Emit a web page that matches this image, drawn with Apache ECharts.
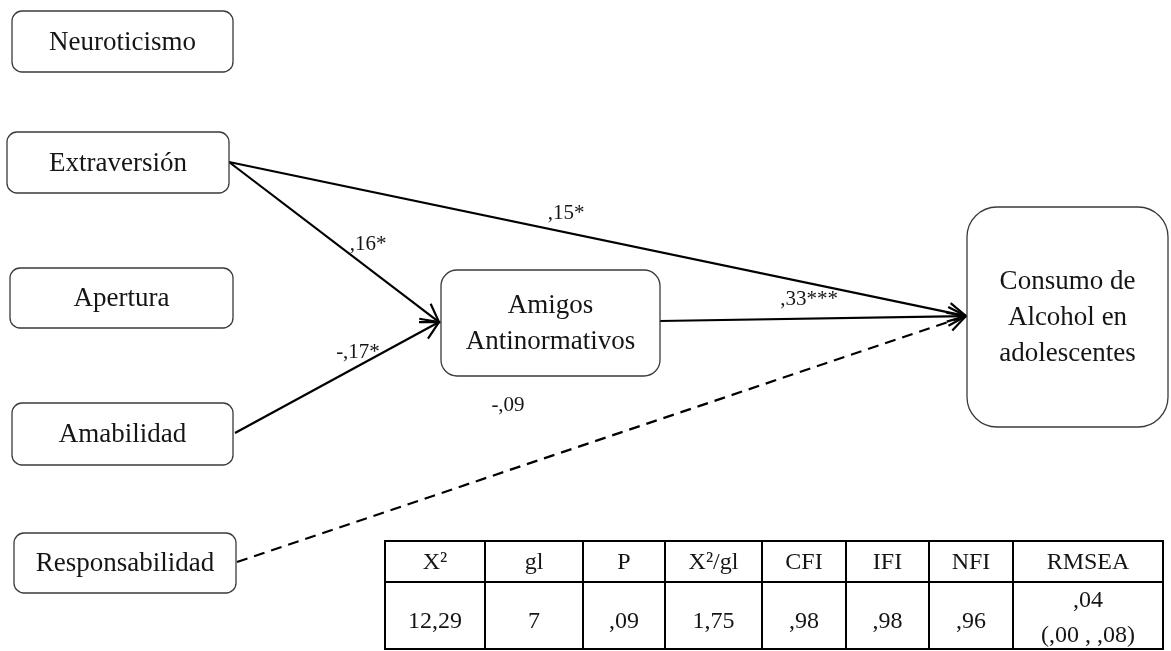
<!DOCTYPE html>
<html><head><meta charset="utf-8">
<script src="https://cdn.jsdelivr.net/npm/echarts@6/dist/echarts.min.js"></script>
<style>html,body{margin:0;padding:0;background:#fff}#c{width:1171px;height:651px}</style>
</head><body><div id="c"></div>
<script>
// ---- data ----
const variables = ['Neuroticismo', 'Extraversión', 'Apertura', 'Amabilidad', 'Responsabilidad', 'Amigos\nAntinormativos', 'Consumo de\nAlcohol en\nadolescentes'];
const pathFrom = ['Extraversión', 'Extraversión', 'Amabilidad', 'Amigos\nAntinormativos', 'Responsabilidad'];
const pathTo = ['Consumo de\nAlcohol en\nadolescentes', 'Amigos\nAntinormativos', 'Amigos\nAntinormativos', 'Consumo de\nAlcohol en\nadolescentes', 'Consumo de\nAlcohol en\nadolescentes'];
const pathCoef = [',15*', ',16*', '-,17*', ',33***', '-,09'];
const pathSignificant = [true, true, true, true, false];
const fitHeaders = ['X²', 'gl', 'P', 'X²/gl', 'CFI', 'IFI', 'NFI', 'RMSEA'];
const fitValues = ['12,29', '7', ',09', '1,75', ',98', ',98', ',96', ',04\n(,00 , ,08)'];

// ---- layout (positions / sizes, kept apart from data) ----
const boxLayout = [
  [12, 11, 233, 72, 10],
  [7, 132, 229, 193, 10],
  [10, 268, 233, 328, 10],
  [12, 403, 233, 465, 10],
  [14, 533, 236, 593, 10],
  [441, 270, 660, 376, 16],
  [967, 207, 1168, 427, 30]
];
// start point, end point, label position
const edgeLayout = [
  [[229, 162], [966, 316], [566, 213]],
  [[229, 162], [439, 322], [368, 244]],
  [[235, 433], [439, 322], [358, 352]],
  [[660, 321], [966, 316], [809, 299]],
  [[237, 562], [966, 316], [508, 405]]
];
const tableCols = [385, 485, 583, 665, 762, 846, 929, 1013, 1163];
const tableRows = [541, 582, 649];

const SERIF = '"Liberation Serif", "Times New Roman", serif';
const chart = echarts.init(document.getElementById('c'), null, {renderer: 'canvas'});

function renderBox(params, api) {
  const b = boxLayout[params.dataIndex];
  const p1 = api.coord([b[0], b[1]]), p2 = api.coord([b[2], b[3]]);
  return {
    type: 'group', children: [
      {type: 'rect', shape: {x: p1[0], y: p1[1], width: p2[0] - p1[0], height: p2[1] - p1[1], r: b[4]},
        style: {fill: '#fff', stroke: '#3a3a3a', lineWidth: 1.3}},
      {type: 'text', x: (p1[0] + p2[0]) / 2, y: (p1[1] + p2[1]) / 2 + 1,
        style: {text: variables[params.dataIndex], font: '27px ' + SERIF, fill: '#151515', align: 'center', verticalAlign: 'middle', lineHeight: 36}}
    ]
  };
}

function renderEdge(params, api) {
  const i = params.dataIndex;
  const L = edgeLayout[i];
  const s = api.coord(L[0]), e = api.coord(L[1]), lp = api.coord(L[2]);
  const dx = e[0] - s[0], dy = e[1] - s[1];
  const len = Math.sqrt(dx * dx + dy * dy);
  const ux = dx / len, uy = dy / len;
  const AL = 20, th = 28 * Math.PI / 180;
  function rot(a) {
    const c = Math.cos(a), sn = Math.sin(a);
    return [ux * c - uy * sn, ux * sn + uy * c];
  }
  const r1 = rot(th), r2 = rot(-th);
  const a1 = [e[0] - AL * r1[0], e[1] - AL * r1[1]];
  const a2 = [e[0] - AL * r2[0], e[1] - AL * r2[1]];
  return {
    type: 'group', children: [
      {type: 'line', shape: {x1: s[0], y1: s[1], x2: e[0] - ux * 2, y2: e[1] - uy * 2},
        style: {stroke: '#000', lineWidth: 2.2, lineDash: pathSignificant[i] ? null : [11, 7]}},
      {type: 'polyline', shape: {points: [a1, e, a2]},
        style: {stroke: '#000', lineWidth: 2.2, fill: null, lineJoin: 'miter'}},
      {type: 'text', x: lp[0], y: lp[1],
        style: {text: pathCoef[i], font: '21px ' + SERIF, fill: '#151515', align: 'center', verticalAlign: 'middle'}}
    ]
  };
}

function renderTableCol(params, api) {
  const i = params.dataIndex;
  const x1 = tableCols[i], x2 = tableCols[i + 1];
  const t0 = api.coord([x1, tableRows[0]]), t1 = api.coord([x2, tableRows[1]]), t2 = api.coord([x2, tableRows[2]]);
  const cx = (t0[0] + t1[0]) / 2;
  const multi = fitValues[i].indexOf('\n') >= 0;
  return {
    type: 'group', children: [
      {type: 'rect', shape: {x: t0[0], y: t0[1], width: t1[0] - t0[0], height: t1[1] - t0[1]},
        style: {fill: '#fff', stroke: '#000', lineWidth: 2}},
      {type: 'rect', shape: {x: t0[0], y: t1[1], width: t1[0] - t0[0], height: t2[1] - t1[1]},
        style: {fill: '#fff', stroke: '#000', lineWidth: 2}},
      {type: 'text', x: cx, y: (t0[1] + t1[1]) / 2 + 1,
        style: {text: fitHeaders[i], font: '24px ' + SERIF, fill: '#151515', align: 'center', verticalAlign: 'middle'}},
      {type: 'text', x: cx, y: multi ? (t1[1] + t2[1]) / 2 + 3 : (t1[1] + t2[1]) / 2 + 6,
        style: {text: fitValues[i], font: '24px ' + SERIF, fill: '#151515', align: 'center', verticalAlign: 'middle', lineHeight: 35}}
    ]
  };
}

chart.setOption({
  animation: false,
  backgroundColor: '#fff',
  grid: {left: 0, right: 0, top: 0, bottom: 0},
  xAxis: {type: 'value', min: 0, max: 1171, show: false},
  yAxis: {type: 'value', min: 0, max: 651, inverse: true, show: false},
  series: [
    {type: 'custom', coordinateSystem: 'cartesian2d', renderItem: renderEdge, data: pathCoef.map((c, i) => [i]), z: 2},
    {type: 'custom', coordinateSystem: 'cartesian2d', renderItem: renderBox, data: variables.map((v, i) => [i]), z: 3},
    {type: 'custom', coordinateSystem: 'cartesian2d', renderItem: renderTableCol, data: fitHeaders.map((h, i) => [i]), z: 4}
  ]
});
</script>
</body></html>
